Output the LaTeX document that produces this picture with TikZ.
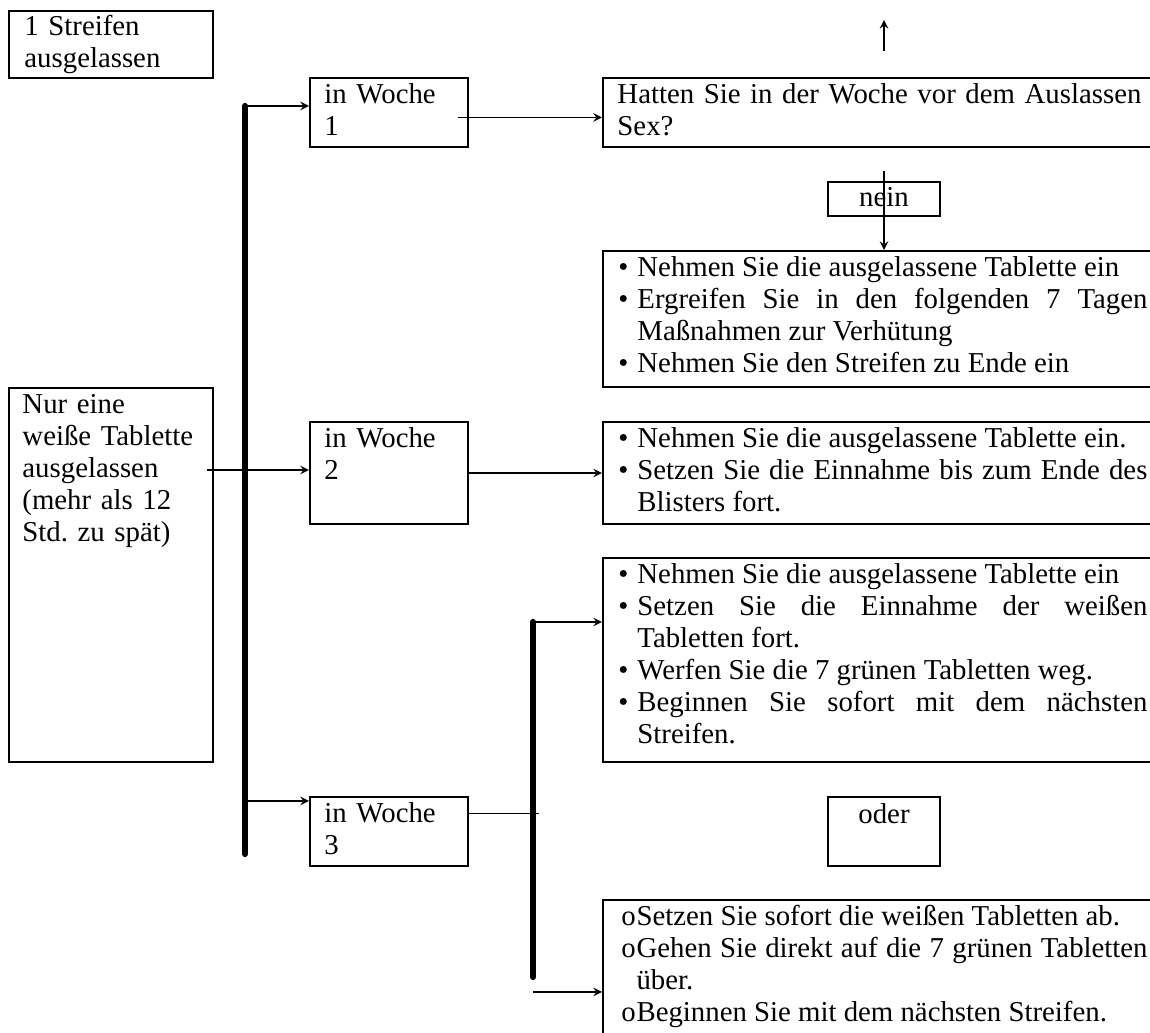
\documentclass[tikz,border=0pt]{standalone}
\usepackage{fontspec}
\setmainfont{Liberation Serif}
\usetikzlibrary{calc,fit}
\tolerance=9999
\hyphenpenalty=10000
\exhyphenpenalty=10000
\frenchspacing
\newcommand{\blt}{\llap{\makebox[7.9pt][l]{\textbullet}}}
\newcommand{\cir}{\llap{\makebox[6.3pt][l]{o}}}
\tikzset{
  box/.style={draw,line width=.85pt,inner sep=0pt},
  txt/.style={inner sep=0pt,anchor=base west,align=left,font=\fontsize{12}{13.3}\selectfont},
  lst/.style={txt,align=justify},
  arr/.style={->,>=stealth,line width=.6pt},
  bar/.style={line width=2.6pt,line cap=round},
}
\begin{document}
\begin{tikzpicture}[x=0.41667pt,y=-0.41667pt]
      \clip(0,0)rectangle(1150,1033);
      \node[box,fit={(9,11)(213,78)}](s1){};
      \node[txt,text width=80pt](s1t)at($(s1.north west)+(16,26)$){1 Streifen\\ausgelassen};
      \node[box,fit={(310,78)(468,147)}](w1){};
      \node[txt,text width=60pt](w1t)at($(w1.north west)+(15,27)$){in Woche\\1};
      \node[box,fit={(603,78)(1165,147)}](q1){};
      \node[txt,text width=225pt](q1t)at($(q1.north west)+(15,27)$){Hatten Sie in der Woche vor dem Auslassen\\Sex?};
      \node[box,fit={(828,182)(940,216)}](nein){};
      \node[txt,anchor=base](neint)at($(nein.north)+(0,26)$){nein};
      \node[box,fit={(603,251)(1165,387)}](b3){};
      \node[lst,text width=220.4pt](b3t)at($(b3.north west)+(16,27)$){\leftskip=7.9pt
        \blt Nehmen Sie die ausgelassene Tablette ein\\
        \blt Ergreifen Sie in den folgenden 7 Tagen\linebreak Maßnahmen zur Verhütung\\
        \blt Nehmen Sie den Streifen zu Ende ein\par};
      \node[box,fit={(9,388)(213,762)}](nur){};
      \node[txt,text width=80pt](nurt)at($(nur.north west)+(14,27)$){Nur eine\\weiße Tablette\\ausgelassen\\(mehr als 12\\Std. zu spät)};
      \node[box,fit={(310,422)(468,524)}](w2){};
      \node[txt,text width=60pt](w2t)at($(w2.north west)+(15,27)$){in Woche\\2};
      \node[box,fit={(603,422)(1165,524)}](b4){};
      \node[lst,text width=220.4pt](b4t)at($(b4.north west)+(16,27)$){\leftskip=7.9pt
        \blt Nehmen Sie die ausgelassene Tablette ein.\\
        \blt Setzen Sie die Einnahme bis zum Ende des\linebreak Blisters fort.\par};
      \node[box,fit={(603,558)(1165,762)}](b5){};
      \node[lst,text width=220.4pt](b5t)at($(b5.north west)+(16,27)$){\leftskip=7.9pt
        \blt Nehmen Sie die ausgelassene Tablette ein\\
        \blt Setzen Sie die Einnahme der weißen\linebreak Tabletten fort.\\
        \blt Werfen Sie die 7 grünen Tabletten weg.\\
        \blt Beginnen Sie sofort mit dem nächsten\linebreak Streifen.\par};
      \node[box,fit={(310,797)(468,866)}](w3){};
      \node[txt,text width=60pt](w3t)at($(w3.north west)+(15,27)$){in Woche\\3};
      \node[box,fit={(828,797)(940,866)}](oder){};
      \node[txt,anchor=base](odert)at($(oder.north)+(0,28)$){oder};
      \node[box,fit={(603,900)(1165,1060)}](b6){};
      \node[lst,text width=219.2pt](b6t)at($(b6.north west)+(19,27)$){\leftskip=6.3pt
        \cir Setzen Sie sofort die weißen Tabletten ab.\\
        \cir Gehen Sie direkt auf die 7 grünen Tabletten\linebreak über.\\
        \cir Beginnen Sie mit dem nächsten Streifen.\par};
      \coordinate(t1)at(245,106);
      \coordinate(t1b)at(245,854);
      \coordinate(t2)at(533,622);
      \coordinate(t2b)at(533,977);
      \coordinate(w3a)at($(w3.north west)+(0,5)$);
      \coordinate(b6a)at($(b6.north west)+(0,93)$);
      \draw[bar](t1)--(t1b);
      \draw[bar](t2)--(t2b);
      \draw[arr](t1)--(w1.west|-t1);
      \draw[arr]($(w1.east)+(-11,5)$)--($(q1.west)+(0,5)$);
      \draw[arr]($(q1.north)+(0,-26)$)--($(q1.north)+(0,-57)$);
      \draw[arr]($(q1.south)+(0,23)$)--(b3.north);
      \draw[arr]($(nur.east|-w2.west)+(-7,-3)$)--($(w2.west)+(0,-3)$);
      \draw[arr](w2.east)--(b4.west);
      \draw[arr](t1|-w3a)--(w3a);
      \draw($(w3.north east)+(0,17)$)--($(t2|-w3.north)+(6,17)$);
      \draw[arr](t2)--(b5.west|-t2);
      \draw[arr](t2|-b6a)--(b6a);
\end{tikzpicture}
\end{document}
